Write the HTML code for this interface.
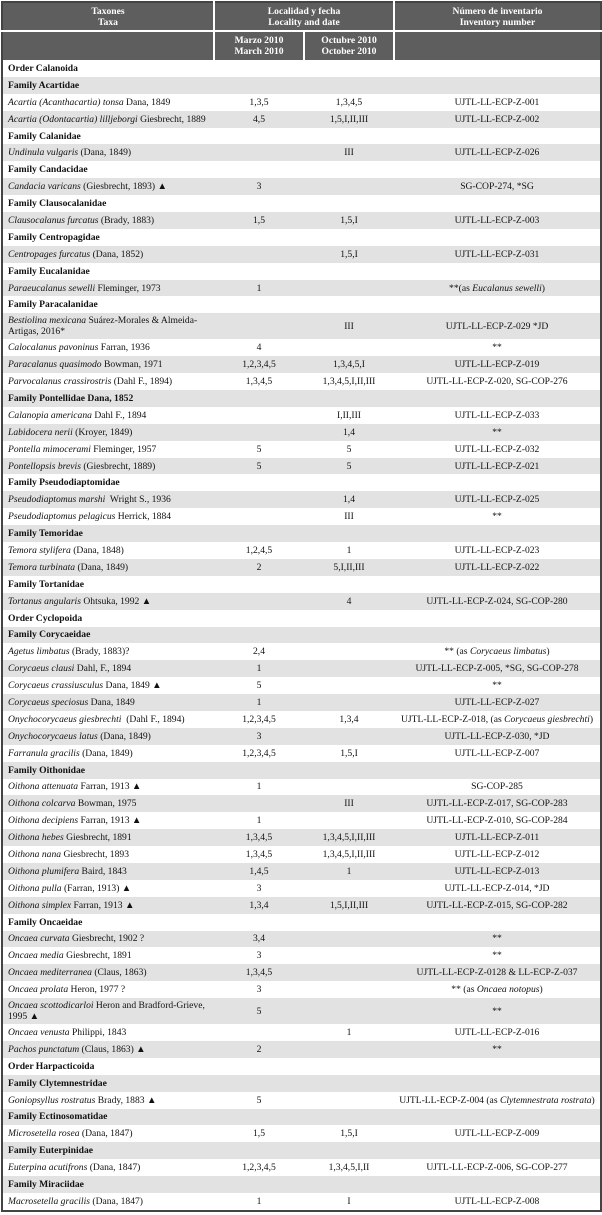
<!DOCTYPE html>
<html><head><meta charset="utf-8">
<style>
html,body{margin:0;padding:0;background:#fff;}
body{width:602px;height:1215px;overflow:hidden;}
table{position:absolute;left:1px;top:1px;width:599px;border-collapse:collapse;table-layout:fixed;
font-family:"Liberation Serif",serif;font-size:9.6px;color:#111;border:2px solid #444;}
td{padding:0 0 0 5px;white-space:nowrap;overflow:hidden;height:16.9px;line-height:11px;}
td.c{text-align:center;padding:0;}
tr:nth-child(even) td{background:#e2e2e2;}
tr.h td{background:#5e5e5e !important;color:#fff;font-weight:bold;text-align:center;border-left:2px solid #fff;padding:0;line-height:11px;}
tr.h td:first-child{border-left:none;}
tr.h1 td{height:27px;border-bottom:2px solid #fff;}
tr.h2 td{height:28px;}
tr.d td{height:26px;white-space:normal;}
b{font-weight:bold;}
</style></head><body>
<table>
<colgroup><col style="width:212px"><col style="width:90px"><col style="width:90px"><col style="width:207px"></colgroup>
<tr class="h h1"><td>Taxones<br>Taxa</td><td colspan="2">Localidad y fecha<br>Locality and date</td><td>Número de inventario<br>Inventory number</td></tr>
<tr class="h h2"><td></td><td>Marzo 2010<br>March 2010</td><td>Octubre 2010<br>October 2010</td><td></td></tr>
<tbody>
<tr><td><b>Order Calanoida</b></td><td></td><td></td><td></td></tr>
<tr><td><b>Family Acartidae</b></td><td></td><td></td><td></td></tr>
<tr><td><i>Acartia (Acanthacartia) tonsa</i> Dana, 1849</td><td class="c">1,3,5</td><td class="c">1,3,4,5</td><td class="c">UJTL-LL-ECP-Z-001</td></tr>
<tr><td><i>Acartia (Odontacartia) lilljeborgi</i> Giesbrecht, 1889</td><td class="c">4,5</td><td class="c">1,5,I,II,III</td><td class="c">UJTL-LL-ECP-Z-002</td></tr>
<tr><td><b>Family Calanidae</b></td><td></td><td></td><td></td></tr>
<tr><td><i>Undinula vulgaris</i> (Dana, 1849)</td><td class="c"></td><td class="c">III</td><td class="c">UJTL-LL-ECP-Z-026</td></tr>
<tr><td><b>Family Candacidae</b></td><td></td><td></td><td></td></tr>
<tr><td><i>Candacia varicans</i> (Giesbrecht, 1893) ▲</td><td class="c">3</td><td class="c"></td><td class="c">SG-COP-274, *SG</td></tr>
<tr><td><b>Family Clausocalanidae</b></td><td></td><td></td><td></td></tr>
<tr><td><i>Clausocalanus furcatus</i> (Brady, 1883)</td><td class="c">1,5</td><td class="c">1,5,I</td><td class="c">UJTL-LL-ECP-Z-003</td></tr>
<tr><td><b>Family Centropagidae</b></td><td></td><td></td><td></td></tr>
<tr><td><i>Centropages furcatus</i> (Dana, 1852)</td><td class="c"></td><td class="c">1,5,I</td><td class="c">UJTL-LL-ECP-Z-031</td></tr>
<tr><td><b>Family Eucalanidae</b></td><td></td><td></td><td></td></tr>
<tr><td><i>Paraeucalanus sewelli</i> Fleminger, 1973</td><td class="c">1</td><td class="c"></td><td class="c">**(as <i>Eucalanus sewelli</i>)</td></tr>
<tr><td><b>Family Paracalanidae</b></td><td></td><td></td><td></td></tr>
<tr class="d"><td><i>Bestiolina mexicana</i> Suárez-Morales &amp; Almeida-<br>Artigas, 2016*</td><td class="c"></td><td class="c">III</td><td class="c">UJTL-LL-ECP-Z-029 *JD</td></tr>
<tr><td><i>Calocalanus pavoninus</i> Farran, 1936</td><td class="c">4</td><td class="c"></td><td class="c">**</td></tr>
<tr><td><i>Paracalanus quasimodo</i> Bowman, 1971</td><td class="c">1,2,3,4,5</td><td class="c">1,3,4,5,I</td><td class="c">UJTL-LL-ECP-Z-019</td></tr>
<tr><td><i>Parvocalanus crassirostris</i> (Dahl F., 1894)</td><td class="c">1,3,4,5</td><td class="c">1,3,4,5,I,II,III</td><td class="c">UJTL-LL-ECP-Z-020, SG-COP-276</td></tr>
<tr><td><b>Family Pontellidae Dana, 1852</b></td><td></td><td></td><td></td></tr>
<tr><td><i>Calanopia americana</i> Dahl F., 1894</td><td class="c"></td><td class="c">I,II,III</td><td class="c">UJTL-LL-ECP-Z-033</td></tr>
<tr><td><i>Labidocera nerii</i> (Kroyer, 1849)</td><td class="c"></td><td class="c">1,4</td><td class="c">**</td></tr>
<tr><td><i>Pontella mimocerami</i> Fleminger, 1957</td><td class="c">5</td><td class="c">5</td><td class="c">UJTL-LL-ECP-Z-032</td></tr>
<tr><td><i>Pontellopsis brevis</i> (Giesbrecht, 1889)</td><td class="c">5</td><td class="c">5</td><td class="c">UJTL-LL-ECP-Z-021</td></tr>
<tr><td><b>Family Pseudodiaptomidae</b></td><td></td><td></td><td></td></tr>
<tr><td><i>Pseudodiaptomus marshi</i>&nbsp; Wright S., 1936</td><td class="c"></td><td class="c">1,4</td><td class="c">UJTL-LL-ECP-Z-025</td></tr>
<tr><td><i>Pseudodiaptomus pelagicus</i> Herrick, 1884</td><td class="c"></td><td class="c">III</td><td class="c">**</td></tr>
<tr><td><b>Family Temoridae</b></td><td></td><td></td><td></td></tr>
<tr><td><i>Temora stylifera</i> (Dana, 1848)</td><td class="c">1,2,4,5</td><td class="c">1</td><td class="c">UJTL-LL-ECP-Z-023</td></tr>
<tr><td><i>Temora turbinata</i> (Dana, 1849)</td><td class="c">2</td><td class="c">5,I,II,III</td><td class="c">UJTL-LL-ECP-Z-022</td></tr>
<tr><td><b>Family Tortanidae</b></td><td></td><td></td><td></td></tr>
<tr><td><i>Tortanus angularis</i> Ohtsuka, 1992 ▲</td><td class="c"></td><td class="c">4</td><td class="c">UJTL-LL-ECP-Z-024, SG-COP-280</td></tr>
<tr><td><b>Order Cyclopoida</b></td><td></td><td></td><td></td></tr>
<tr><td><b>Family Corycaeidae</b></td><td></td><td></td><td></td></tr>
<tr><td><i>Agetus limbatus</i> (Brady, 1883)?</td><td class="c">2,4</td><td class="c"></td><td class="c">** (as <i>Corycaeus limbatus</i>)</td></tr>
<tr><td><i>Corycaeus clausi</i> Dahl, F., 1894</td><td class="c">1</td><td class="c"></td><td class="c">UJTL-LL-ECP-Z-005, *SG, SG-COP-278</td></tr>
<tr><td><i>Corycaeus crassiusculus</i> Dana, 1849 ▲</td><td class="c">5</td><td class="c"></td><td class="c">**</td></tr>
<tr><td><i>Corycaeus speciosus</i> Dana, 1849</td><td class="c">1</td><td class="c"></td><td class="c">UJTL-LL-ECP-Z-027</td></tr>
<tr><td><i>Onychocorycaeus giesbrechti</i>&nbsp; (Dahl F., 1894)</td><td class="c">1,2,3,4,5</td><td class="c">1,3,4</td><td class="c">UJTL-LL-ECP-Z-018, (as <i>Corycaeus giesbrechti</i>)</td></tr>
<tr><td><i>Onychocorycaeus latus</i> (Dana, 1849)</td><td class="c">3</td><td class="c"></td><td class="c">UJTL-LL-ECP-Z-030, *JD</td></tr>
<tr><td><i>Farranula gracilis</i> (Dana, 1849)</td><td class="c">1,2,3,4,5</td><td class="c">1,5,I</td><td class="c">UJTL-LL-ECP-Z-007</td></tr>
<tr><td><b>Family Oithonidae</b></td><td></td><td></td><td></td></tr>
<tr><td><i>Oithona attenuata</i> Farran, 1913 ▲</td><td class="c">1</td><td class="c"></td><td class="c">SG-COP-285</td></tr>
<tr><td><i>Oithona colcarva</i> Bowman, 1975</td><td class="c"></td><td class="c">III</td><td class="c">UJTL-LL-ECP-Z-017, SG-COP-283</td></tr>
<tr><td><i>Oithona decipiens</i> Farran, 1913 ▲</td><td class="c">1</td><td class="c"></td><td class="c">UJTL-LL-ECP-Z-010, SG-COP-284</td></tr>
<tr><td><i>Oithona hebes</i> Giesbrecht, 1891</td><td class="c">1,3,4,5</td><td class="c">1,3,4,5,I,II,III</td><td class="c">UJTL-LL-ECP-Z-011</td></tr>
<tr><td><i>Oithona nana</i> Giesbrecht, 1893</td><td class="c">1,3,4,5</td><td class="c">1,3,4,5,I,II,III</td><td class="c">UJTL-LL-ECP-Z-012</td></tr>
<tr><td><i>Oithona plumifera</i> Baird, 1843</td><td class="c">1,4,5</td><td class="c">1</td><td class="c">UJTL-LL-ECP-Z-013</td></tr>
<tr><td><i>Oithona pulla</i> (Farran, 1913) ▲</td><td class="c">3</td><td class="c"></td><td class="c">UJTL-LL-ECP-Z-014, *JD</td></tr>
<tr><td><i>Oithona simplex</i> Farran, 1913 ▲</td><td class="c">1,3,4</td><td class="c">1,5,I,II,III</td><td class="c">UJTL-LL-ECP-Z-015, SG-COP-282</td></tr>
<tr><td><b>Family Oncaeidae</b></td><td></td><td></td><td></td></tr>
<tr><td><i>Oncaea curvata</i> Giesbrecht, 1902 ?</td><td class="c">3,4</td><td class="c"></td><td class="c">**</td></tr>
<tr><td><i>Oncaea media</i> Giesbrecht, 1891</td><td class="c">3</td><td class="c"></td><td class="c">**</td></tr>
<tr><td><i>Oncaea mediterranea</i> (Claus, 1863)</td><td class="c">1,3,4,5</td><td class="c"></td><td class="c">UJTL-LL-ECP-Z-0128 &amp; LL-ECP-Z-037</td></tr>
<tr><td><i>Oncaea prolata</i> Heron, 1977 ?</td><td class="c">3</td><td class="c"></td><td class="c">** (as <i>Oncaea notopus</i>)</td></tr>
<tr class="d"><td><i>Oncaea scottodicarloi</i> Heron and Bradford-Grieve,<br>1995 ▲</td><td class="c">5</td><td class="c"></td><td class="c">**</td></tr>
<tr><td><i>Oncaea venusta</i> Philippi, 1843</td><td class="c"></td><td class="c">1</td><td class="c">UJTL-LL-ECP-Z-016</td></tr>
<tr><td><i>Pachos punctatum</i> (Claus, 1863) ▲</td><td class="c">2</td><td class="c"></td><td class="c">**</td></tr>
<tr><td><b>Order Harpacticoida</b></td><td></td><td></td><td></td></tr>
<tr><td><b>Family Clytemnestridae</b></td><td></td><td></td><td></td></tr>
<tr><td><i>Goniopsyllus rostratus</i> Brady, 1883 ▲</td><td class="c">5</td><td class="c"></td><td class="c">UJTL-LL-ECP-Z-004 (as <i>Clytemnestrata rostrata</i>)</td></tr>
<tr><td><b>Family Ectinosomatidae</b></td><td></td><td></td><td></td></tr>
<tr><td><i>Microsetella rosea</i> (Dana, 1847)</td><td class="c">1,5</td><td class="c">1,5,I</td><td class="c">UJTL-LL-ECP-Z-009</td></tr>
<tr><td><b>Family Euterpinidae</b></td><td></td><td></td><td></td></tr>
<tr><td><i>Euterpina acutifrons</i> (Dana, 1847)</td><td class="c">1,2,3,4,5</td><td class="c">1,3,4,5,I,II</td><td class="c">UJTL-LL-ECP-Z-006, SG-COP-277</td></tr>
<tr><td><b>Family Miraciidae</b></td><td></td><td></td><td></td></tr>
<tr><td><i>Macrosetella gracilis</i> (Dana, 1847)</td><td class="c">1</td><td class="c">I</td><td class="c">UJTL-LL-ECP-Z-008</td></tr>
</tbody>
</table>
</body></html>
